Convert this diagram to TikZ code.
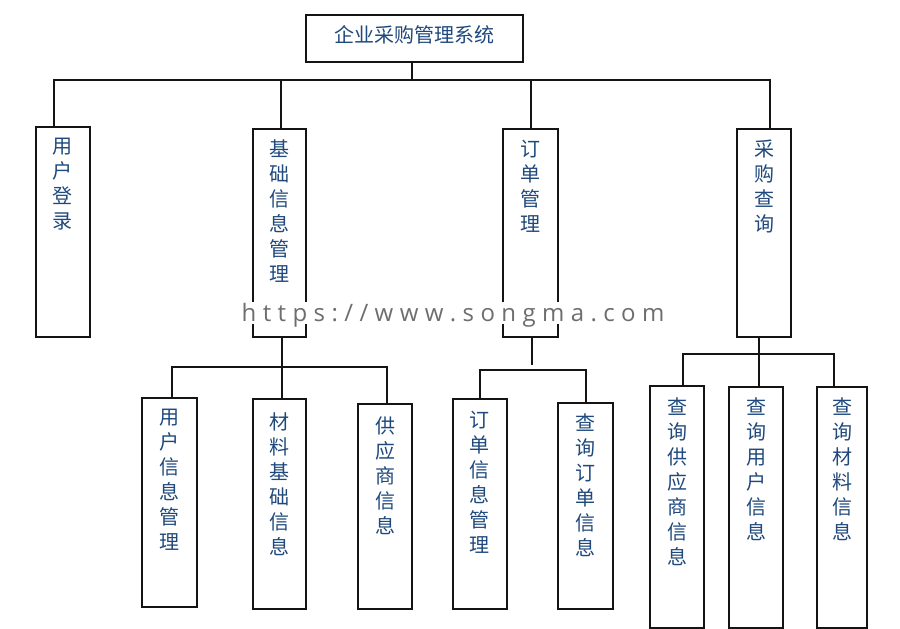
\documentclass[tikz,border=0pt]{standalone}
\usepackage{fontspec}
\newfontfamily\cjk{Noto Sans CJK SC}
\newfontfamily\wmf{Open Sans}
\definecolor{txtblue}{RGB}{31,73,125}
\definecolor{wmgray}{RGB}{110,110,110}
\definecolor{lineblk}{RGB}{20,20,20}
\newcommand\wk{\kern6.4pt}
\tikzset{
  wh/.style 2 args={minimum width=#1pt, minimum height=#2pt},
  box/.style={draw=lineblk, line width=2pt, inner sep=0pt, outer sep=0pt, rectangle},
  conn/.style={draw=lineblk, line width=1.7pt},
  vt/.style={font=\cjk\fontsize{20pt}{25pt}\selectfont, text=txtblue, align=center, inner sep=0pt, anchor=north},
  wm/.style={font=\wmf\fontsize{24pt}{24pt}\selectfont, text=wmgray, fill=white, inner sep=0pt, anchor=base west, text height=19.5pt, text depth=2.5pt}
}
\begin{document}
\begin{tikzpicture}[x=1pt,y=-1pt]
\useasboundingbox[fill=white] (0,0) rectangle (900,629);

% boxes
\node[box, wh={217.3}{47.6}, font=\cjk\fontsize{20pt}{24pt}\selectfont, text=txtblue, text height=17pt, text depth=8.5pt] (root) at (414.7,38.5) {企业采购管理系统};
\node[box, wh={54.3}{209.4}] (A) at (62.85,232) {};
\node[box, wh={53.3}{208.6}] (B) at (279.35,233) {};
\node[box, wh={54.7}{208.6}] (C) at (530.65,233) {};
\node[box, wh={53.4}{208.6}] (D) at (764,233) {};
\node[box, wh={55}{209.3}] (B1) at (169.2,502.65) {};
\node[box, wh={53.3}{209.7}] (B2) at (279.35,504.15) {};
\node[box, wh={54.6}{205}] (B3) at (385,506.5) {};
\node[box, wh={54}{210}] (C1) at (479.7,504) {};
\node[box, wh={55.6}{206.3}] (C2) at (585.5,505.85) {};
\node[box, wh={54.3}{241.7}] (D1) at (677.15,506.85) {};
\node[box, wh={53.4}{241}] (D2) at (756,507.2) {};
\node[box, wh={50.6}{241}] (D3) at (842,507.2) {};

% vertical texts
\node[vt] (tA) at ([yshift=-11pt]A.north) {用\\户\\登\\录};
\node[vt] (tB) at ([yshift=-11pt]B.north) {基\\础\\信\\息\\管\\理};
\node[vt] (tC) at ([yshift=-11pt]C.north) {订\\单\\管\\理};
\node[vt] (tD) at ([yshift=-11pt]D.north) {采\\购\\查\\询};
\node[vt] (tB1) at ([yshift=-11pt]B1.north) {用\\户\\信\\息\\管\\理};
\node[vt] (tB2) at ([yshift=-13pt]B2.north) {材\\料\\基\\础\\信\\息};
\node[vt] (tB3) at ([yshift=-13pt]B3.north) {供\\应\\商\\信\\息};
\node[vt] (tC1) at ([yshift=-12pt]C1.north) {订\\单\\信\\息\\管\\理};
\node[vt] (tC2) at ([yshift=-11pt]C2.north) {查\\询\\订\\单\\信\\息};
\node[vt] (tD1) at ([yshift=-11pt]D1.north) {查\\询\\供\\应\\商\\信\\息};
\node[vt] (tD2) at ([yshift=-11pt]D2.north) {查\\询\\用\\户\\信\\息};
\node[vt] (tD3) at ([yshift=-11pt]D3.north) {查\\询\\材\\料\\信\\息};

% top level connectors
\coordinate (busL) at (54.3,80);
\coordinate (busR) at (770,80);
\coordinate (rootstem) at (412.3,80);
\coordinate (bB) at (281.3,80);
\coordinate (bC) at (531,80);
\draw[conn] (root.south -| rootstem) -- (rootstem);
\draw[conn] (A.north -| busL) -- (busL) -- (busR) -- (D.north -| busR);
\draw[conn] (bB) -- (B.north -| bB);
\draw[conn] (bC) -- (C.north -| bC);

% under B
\coordinate (bbL) at (172.3,367.3);
\coordinate (bbM) at (282,367.3);
\coordinate (bbR) at (387.3,367.3);
\draw[conn] (B.south -| bbM) -- (B2.north -| bbM);
\draw[conn] (B1.north -| bbL) -- (bbL) -- (bbR) -- (B3.north -| bbR);

% under C
\coordinate (cstem) at (531.7,365);
\coordinate (cbL) at (480,370);
\coordinate (cbR) at (585.7,370);
\draw[conn] (C.south -| cstem) -- (cstem);
\draw[conn] (C1.north -| cbL) -- (cbL) -- (cbR) -- (C2.north -| cbR);

% under D
\coordinate (dbL) at (682.7,354.3);
\coordinate (dbM) at (759,354.3);
\coordinate (dbR) at (834.3,354.3);
\draw[conn] (D.south -| dbM) -- (D2.north -| dbM);
\draw[conn] (D1.north -| dbL) -- (dbL) -- (dbR) -- (D3.north -| dbR);

% watermark
\node[wm] (wmk) at (241.5,321.7) {h\wk t\wk t\wk p\wk s\wk :\wk /\wk /\wk w\wk w\wk w\wk .\wk s\wk o\wk n\wk g\wk m\wk a\wk .\wk c\wk o\wk m};
\end{tikzpicture}
\end{document}
